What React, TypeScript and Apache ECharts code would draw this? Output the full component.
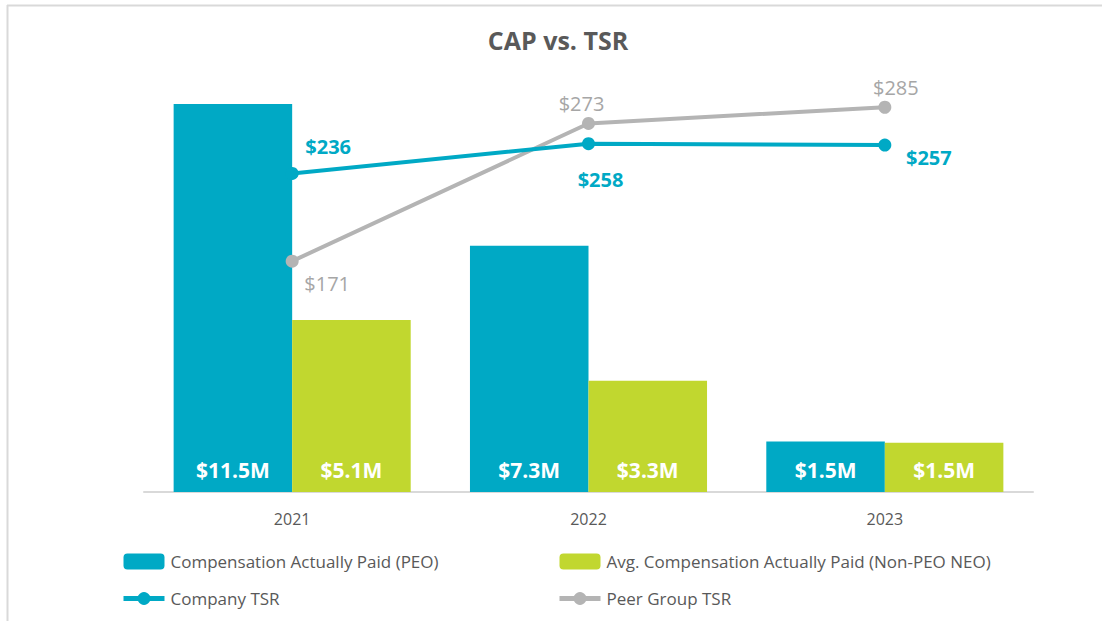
import React, { useEffect, useRef } from "react";
import * as echarts from "echarts";

const years = ["2021", "2022", "2023"];
const capPEO = [11.5, 7.3, 1.5];
const capNEO = [5.1, 3.3, 1.46];
const companyTSR = [236, 258, 257];
const peerTSR = [171, 273, 285];

const seriesNames = {
  peo: "Compensation Actually Paid (PEO)",
  neo: "Avg. Compensation Actually Paid (Non-PEO NEO)",
  company: "Company TSR",
  peer: "Peer Group TSR",
};

const BLUE = "#00A9C5";
const GREEN = "#C1D72F";
const GREY = "#B4B4B4";
const GREY_TEXT = "#A6A6A6";
const TEXT = "#595959";
const FONT = "Open Sans";

const companyOffsets = [[36, -27], [12, 36], [44, 12]];
const peerOffsets = [[35, 22], [-7, -20], [11, -20]];

export default function App() {
  const ref = useRef<HTMLDivElement>(null);
  useEffect(() => {
    if (!ref.current) return;
    const chart = echarts.init(ref.current, null, { renderer: "svg" });
    const barLabel = {
      show: true,
      position: "insideBottom",
      distance: 12,
      color: "#FFFFFF",
      fontFamily: FONT,
      fontWeight: "bold",
      fontSize: 21,
      formatter: (p: any) => "$" + Number(p.value).toFixed(1) + "M",
    };
    const legendBase = {
      orient: "vertical",
      top: 553,
      padding: 0,
      itemWidth: 41,
      itemHeight: 16,
      itemGap: 20,
      lineStyle: { width: 5 },
      textStyle: { fontFamily: FONT, fontSize: 17, color: TEXT, padding: [0, 0, 0, 1] },
    };
    chart.setOption({
      animation: false,
      backgroundColor: "#FFFFFF",
      textStyle: { fontFamily: FONT },
      title: {
        text: "CAP vs. TSR",
        left: 558,
        top: 27,
        padding: 0,
        textAlign: "center",
        textStyle: { fontFamily: FONT, fontWeight: "bold", fontSize: 25, color: TEXT },
      },
      graphic: [
        { type: "line", shape: { x1: 7, y1: 5.5, x2: 1102, y2: 5.5 }, style: { stroke: "#D9D9D9", lineWidth: 2 } },
        { type: "line", shape: { x1: 7.5, y1: 5, x2: 7.5, y2: 621 }, style: { stroke: "#D9D9D9", lineWidth: 2 } },
      ],
      legend: [
        { ...legendBase, data: [seriesNames.peo, seriesNames.company], left: 121 },
        { ...legendBase, data: [seriesNames.neo, seriesNames.peer], left: 557 },
      ],
      grid: { left: 144, right: 69, top: 87, bottom: 129, containLabel: false },
      xAxis: {
        type: "category",
        data: years,
        axisLine: { lineStyle: { color: "#D9D9D9", width: 2 } },
        axisTick: { show: false },
        axisLabel: { color: TEXT, fontFamily: FONT, fontSize: 16, margin: 19 },
      },
      yAxis: [
        { type: "value", min: 0, max: 12, show: false, splitLine: { show: false } },
        { type: "value", min: 0, max: 300, show: false, splitLine: { show: false } },
      ],
      series: [
        {
          name: seriesNames.peo,
          type: "bar",
          data: capPEO,
          itemStyle: { color: BLUE },
          barGap: "0%",
          barCategoryGap: "20%",
          label: barLabel,
        },
        {
          name: seriesNames.neo,
          type: "bar",
          data: capNEO,
          itemStyle: { color: GREEN },
          barGap: "0%",
          barCategoryGap: "20%",
          label: barLabel,
        },
        {
          name: seriesNames.company,
          type: "line",
          yAxisIndex: 1,
          data: companyTSR.map((v, i) => ({
            value: v,
            label: { offset: companyOffsets[i] },
          })),
          symbol: "circle",
          symbolSize: 13,
          lineStyle: { color: BLUE, width: 4 },
          itemStyle: { color: BLUE },
          label: {
            show: true,
            position: "inside",
            color: BLUE,
            fontFamily: FONT,
            fontWeight: "bold",
            fontSize: 20,
            formatter: (p: any) => "$" + p.value,
          },
          z: 5,
        },
        {
          name: seriesNames.peer,
          type: "line",
          yAxisIndex: 1,
          data: peerTSR.map((v, i) => ({
            value: v,
            label: { offset: peerOffsets[i] },
          })),
          symbol: "circle",
          symbolSize: 13,
          lineStyle: { color: GREY, width: 4 },
          itemStyle: { color: GREY },
          label: {
            show: true,
            position: "inside",
            color: GREY_TEXT,
            fontFamily: FONT,
            fontSize: 20,
            formatter: (p: any) => "$" + p.value,
          },
          z: 4,
        },
      ],
    });
    return () => chart.dispose();
  }, []);
  return (
    <div
      ref={ref}
      style={{ position: "fixed", left: 0, top: 0, width: 1102, height: 621 }}
    />
  );
}
